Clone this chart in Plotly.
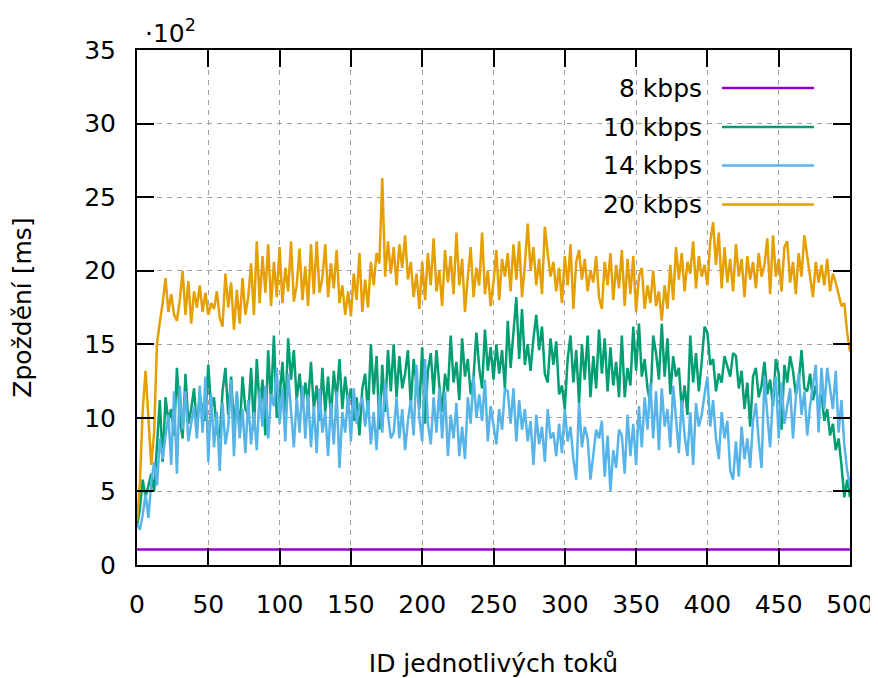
import plotly.graph_objects as go

# x positions (flow IDs, sampled every 2)
flow_id = list(range(0, 501, 2))

rate_8_x = [0, 50, 100, 150, 200, 250, 300, 350, 400, 450, 500]
rate_8 = [1.05, 1.06, 1.05, 1.04, 1.06, 1.05, 1.05, 1.06, 1.04, 1.05, 1.05]

rate_10 = [
    2.6, 3.8, 5.8, 4.6, 5.4, 6.2, 5.0, 8.4, 11.2, 7.0,
    11.4, 9.8, 10.6, 8.8, 13.4, 10.0, 8.6, 13.0, 9.6, 10.6,
    12.0, 9.2, 11.6, 10.4, 9.8, 13.6, 10.6, 11.4, 9.0, 8.6,
    11.8, 13.4, 10.2, 12.8, 9.4, 11.6, 9.0, 12.8, 10.6, 10.2,
    13.4, 9.2, 14.0, 10.6, 12.6, 8.8, 14.6, 11.0, 15.6, 10.0,
    11.4, 13.8, 10.4, 15.4, 12.6, 14.6, 11.2, 13.0, 10.8, 12.4,
    11.0, 13.8, 10.6, 12.2, 9.8, 13.4, 10.4, 12.8, 10.0, 13.2,
    11.2, 14.0, 10.6, 12.8, 11.0, 12.0, 9.8, 11.4, 8.8, 12.0,
    13.0, 10.2, 15.0, 11.6, 14.2, 9.2, 13.6, 10.4, 14.6, 11.8,
    15.0, 11.4, 14.2, 12.0, 13.0, 14.6, 10.8, 14.0, 12.4, 10.6,
    14.8, 9.6, 13.2, 14.4, 11.6, 14.6, 12.2, 10.4, 13.0, 11.8,
    15.6, 12.4, 13.8, 11.2, 15.4, 12.8, 14.0, 11.6, 12.8, 15.8,
    13.4, 12.0, 16.0, 13.2, 14.8, 12.6, 15.0, 13.0, 14.6, 12.0,
    16.6, 13.4, 15.8, 18.2, 14.0, 17.4, 13.6, 15.0, 13.2, 15.4,
    17.0, 14.6, 16.2, 13.0, 12.4, 15.4, 13.6, 15.2, 11.6, 12.2,
    10.6, 14.0, 15.6, 12.4, 14.6, 11.0, 15.0, 12.6, 15.6, 11.4,
    14.2, 12.0, 16.0, 13.0, 15.4, 11.8, 14.8, 12.2, 13.8, 11.4,
    15.6, 11.4, 13.4, 12.2, 16.2, 13.2, 16.4, 12.8, 14.0, 12.0,
    11.0, 15.6, 14.4, 12.6, 16.4, 12.8, 15.4, 11.6, 14.2, 12.8,
    13.4, 10.6, 12.2, 10.2, 15.6, 12.4, 14.4, 11.8, 13.8, 16.2,
    15.8, 13.6, 14.0, 11.8, 13.0, 12.4, 14.2, 13.4, 12.8, 14.4,
    14.2, 12.0, 13.2, 10.6, 12.4, 9.4, 12.8, 13.4, 11.4, 12.2,
    13.8, 11.6, 12.6, 10.8, 14.0, 13.0, 9.2, 13.6, 12.4, 14.2,
    13.2, 11.6, 12.4, 14.6, 12.0, 11.8, 13.0, 11.2, 12.2, 10.6,
    11.6, 9.8, 10.6, 8.8, 9.6, 7.8, 8.6, 6.8, 4.6, 5.8,
    4.6,
]

rate_14 = [
    2.8, 2.4, 3.4, 4.8, 3.2, 5.6, 7.0, 5.4, 8.6, 7.2,
    8.8, 10.2, 6.8, 11.8, 6.2, 12.2, 9.2, 11.8, 8.4, 9.6,
    10.8, 8.6, 12.2, 9.0, 12.8, 7.0, 11.6, 8.0, 10.4, 6.4,
    11.0, 8.2, 9.4, 12.6, 7.4, 11.8, 8.6, 10.6, 7.6, 11.2,
    8.2, 10.4, 7.8, 11.8, 9.4, 12.2, 8.6, 11.6, 10.8, 13.4,
    9.6, 12.0, 8.4, 13.0, 10.2, 8.0, 11.4, 9.0, 12.2, 8.6,
    11.6, 8.0, 10.8, 7.6, 12.0, 9.0, 10.4, 7.4, 11.0, 8.2,
    11.8, 6.6, 10.4, 9.0, 11.6, 8.4, 12.0, 9.6, 10.8, 11.4,
    9.4, 11.2, 8.2, 10.4, 7.8, 11.6, 9.0, 12.4, 10.2, 8.6,
    9.0, 11.4, 8.6, 10.6, 7.8, 9.8, 11.2, 8.8, 13.6, 10.0,
    8.4, 14.0, 9.6, 8.2, 11.4, 9.0, 12.0, 8.6, 11.8, 7.4,
    10.2, 8.6, 11.0, 7.4, 9.4, 7.2, 11.4, 9.6, 12.8, 10.0,
    11.6, 9.8, 12.6, 8.4, 10.8, 9.4, 8.2, 10.6, 9.2, 12.0,
    11.8, 9.6, 12.0, 8.4, 11.2, 9.2, 10.6, 8.4, 9.8, 6.8,
    10.2, 8.2, 9.4, 7.0, 10.6, 8.6, 9.0, 7.4, 9.6, 7.6,
    10.6, 8.4, 9.4, 7.2, 5.8, 11.0, 8.0, 9.4, 8.6, 5.8,
    7.4, 9.2, 8.6, 9.8, 6.0, 8.8, 5.0, 7.8, 6.6, 9.2,
    8.8, 6.2, 10.2, 7.4, 9.6, 6.8, 10.8, 8.0, 11.4, 9.2,
    12.4, 8.6, 11.8, 7.8, 12.0, 9.4, 10.6, 8.0, 12.2, 9.8,
    7.6, 11.2, 8.8, 7.4, 10.4, 6.8, 11.0, 9.4, 10.2, 11.6,
    12.8, 9.4, 11.2, 8.6, 7.2, 10.4, 8.6, 9.8, 6.4, 5.8,
    8.4, 6.0, 9.4, 7.2, 8.6, 6.6, 9.8, 11.0, 8.4, 6.6,
    12.8, 10.2, 8.0, 11.6, 12.8, 8.6, 12.4, 9.6, 10.8, 12.0,
    8.6, 11.4, 13.0, 10.2, 11.8, 8.8, 10.8, 12.4, 13.6, 9.0,
    13.4, 10.6, 13.4, 12.0, 10.6, 13.2, 9.0, 11.2, 8.2, 6.4,
    5.4,
]

rate_20 = [
    3.0, 5.5, 10.5, 13.2, 10.0, 6.8, 9.0, 15.0, 16.5, 17.8,
    19.5, 17.2, 18.4, 17.0, 16.6, 18.0, 20.0, 17.0, 19.3, 16.4,
    18.6, 17.5, 19.0, 17.2, 18.5, 17.0, 17.8, 17.4, 18.6, 16.8,
    16.2, 19.8, 17.5, 19.2, 16.0, 18.7, 16.4, 19.5, 17.0, 18.2,
    20.5, 17.0, 22.0, 17.8, 21.0, 18.5, 21.8, 17.6, 20.6, 18.2,
    21.6, 17.8, 20.2, 18.6, 22.0, 17.9, 19.0, 21.5, 18.0, 20.3,
    17.6, 21.8, 18.4, 22.0, 18.5, 19.5, 21.8, 18.2, 20.5, 18.8,
    21.4, 17.8, 19.0, 17.0, 18.6, 16.9, 19.8, 18.0, 21.2, 17.2,
    19.4, 17.5, 20.6, 19.0, 21.2, 20.5, 26.3, 19.6, 22.0, 19.8,
    21.6, 19.0, 21.8, 20.2, 22.4, 19.4, 20.6, 18.2, 19.8, 17.4,
    20.6, 18.0, 21.2, 19.0, 22.2, 18.6, 20.0, 17.6, 21.4, 19.2,
    21.0, 18.4, 22.6, 19.0, 20.8, 17.2, 19.6, 21.6, 18.2, 20.2,
    19.0, 22.6, 18.4, 20.0, 17.6, 19.2, 21.4, 18.0, 20.8, 19.6,
    21.2, 18.6, 21.8, 19.4, 22.0, 18.2, 20.4, 23.2, 20.0, 21.6,
    19.0, 20.8, 18.4, 23.0, 21.2, 19.6, 20.6, 18.6, 20.2, 17.8,
    21.0, 19.0, 21.8, 17.4, 20.6, 21.4, 19.4, 20.8, 18.6, 20.0,
    19.2, 21.0, 18.2, 17.4, 20.6, 19.0, 21.2, 18.0, 20.4, 18.8,
    21.4, 17.6, 20.8, 18.4, 21.0, 17.2, 19.6, 20.2, 17.4, 19.0,
    17.8, 20.0, 17.6, 18.6, 16.6, 19.0, 17.4, 20.4, 18.0, 21.6,
    19.4, 21.2, 18.6, 20.6, 19.8, 22.0, 18.8, 21.0, 19.6, 20.4,
    19.0, 22.0, 23.3, 20.4, 22.6, 18.8, 21.6, 19.2, 20.8, 18.6,
    21.8, 19.6, 20.8, 18.2, 21.0, 19.4, 20.6, 18.8, 21.2, 19.6,
    20.4, 22.2, 18.4, 22.4, 19.6, 20.8, 18.6, 21.6, 22.0, 19.2,
    20.6, 18.4, 21.2, 19.6, 22.4, 21.0, 19.4, 18.2, 20.6, 19.2,
    20.4, 19.0, 20.8, 18.6, 19.8, 19.2, 18.4, 17.6, 17.8, 15.8,
    14.5,
]

series_names = ["8 kbps", "10 kbps", "14 kbps", "20 kbps"]
colors = ["#9400d3", "#009e73", "#56b4e9", "#e69f00"]

FONT = "DejaVu Sans"
FS = 25

fig = go.Figure()
fig.add_trace(go.Scatter(x=rate_8_x, y=rate_8, mode="lines", name=series_names[0],
                         line=dict(color=colors[0], width=2.5)))
fig.add_trace(go.Scatter(x=flow_id, y=rate_10, mode="lines", name=series_names[1],
                         line=dict(color=colors[1], width=2.5)))
fig.add_trace(go.Scatter(x=flow_id, y=rate_14, mode="lines", name=series_names[2],
                         line=dict(color=colors[2], width=2.5)))
fig.add_trace(go.Scatter(x=flow_id, y=rate_20, mode="lines", name=series_names[3],
                         line=dict(color=colors[3], width=2.5)))

axis_common = dict(
    showline=True, linecolor="black", linewidth=2, mirror="ticks",
    ticks="inside", ticklen=17, tickwidth=2, tickcolor="black",
    showgrid=True, gridcolor="#a0a0a0", gridwidth=1, griddash="5px,5px",
    zeroline=False, automargin=False,
    tickfont=dict(family=FONT, size=FS, color="black"),
)

# the page body adds an 8px offset, so the figure is 870x670 and fills the 878x678 window
fig.update_layout(
    width=870, height=670,
    margin=dict(l=129, r=28, t=42, b=113),
    plot_bgcolor="white", paper_bgcolor="white",
    showlegend=False,
    font=dict(family=FONT, size=FS, color="black"),
    xaxis=dict(range=[0, 500], dtick=50, tick0=0,
               title=dict(text="ID jednotlivých toků", font=dict(family=FONT, size=FS), standoff=36),
               ticklabelstandoff=16,
               **axis_common),
    yaxis=dict(range=[0, 35], dtick=5, tick0=0,
               title=dict(text="Zpoždění [ms]", font=dict(family=FONT, size=FS), standoff=45),
               ticklabelstandoff=14,
               **axis_common),
)

# legend (gnuplot style: text right-aligned, sample line to the right), on opaque key box
fig.add_shape(type="rect", xref="paper", yref="paper",
              x0=(580 - 137) / 713, x1=(838 - 137) / 713,
              y0=(565 - 224) / 515, y1=(565 - 58) / 515,
              fillcolor="white", line=dict(width=0), layer="between")
legend_rows_py = [88, 127, 165.5, 204.5]
for name, col, py in zip(series_names, colors, legend_rows_py):
    yp = (565 - py) / 515
    fig.add_annotation(x=(704 - 137) / 713, y=yp, xref="paper", yref="paper",
                       text=name, showarrow=False, xanchor="right", yanchor="middle",
                       font=dict(family=FONT, size=FS, color="black"))
    fig.add_shape(type="line", xref="paper", yref="paper",
                  x0=(722 - 137) / 713, x1=(814 - 137) / 713, y0=yp, y1=yp,
                  line=dict(color=col, width=2.5))

# axis multiplier label
fig.add_annotation(x=(143 - 137) / 713, y=(565 - 31) / 515, xref="paper", yref="paper",
                   text="·10<sup>2</sup>", showarrow=False, xanchor="left", yanchor="middle",
                   font=dict(family=FONT, size=FS, color="black"))

fig.write_html("out.html")
